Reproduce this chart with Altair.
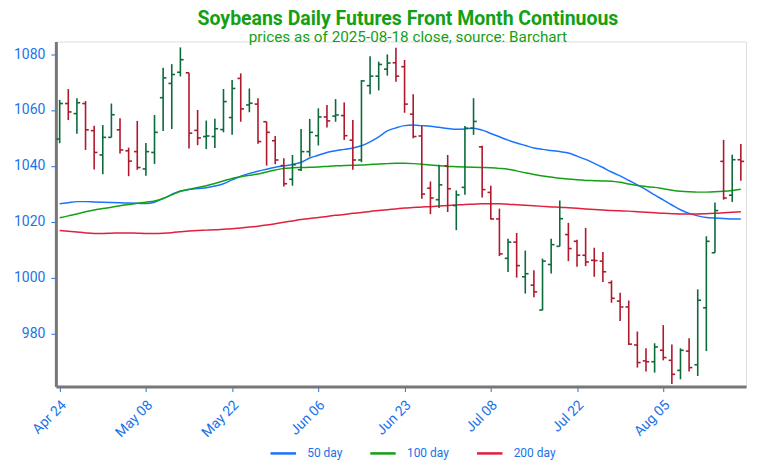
import altair as alt
import pandas as pd

# ---- data ----
tick_labels = ["Apr 24", "May 08", "May 22", "Jun 06", "Jun 23", "Jul 08", "Jul 22", "Aug 05"]
tick_index = [0, 10, 20, 30, 40, 50, 60, 70]

opens = [1049.6, 1062.3, 1058.7, 1062.3, 1052.6, 1043.9, 1050.2, 1052.9, 1045.4, 1045.1,
         1038.9, 1044.8, 1064.4, 1069.5, 1073.5, 1073.3, 1052.7, 1050.5, 1050.5, 1053.0,
         1057.3, 1071.3, 1061.8, 1062.1, 1055.8, 1049.0, 1040.1, 1035.2, 1038.6, 1045.1,
         1050.8, 1057.5, 1057.8, 1058.0, 1049.2, 1042.1, 1068.7, 1072.1, 1074.6, 1076.9,
         1075.5, 1058.5, 1050.7, 1032.0, 1027.9, 1040.0, 1025.8, 1032.3, 1053.5, 1046.8,
         1030.5, 1021.0, 1006.9, 1012.7, 1000.3, 997.3, 988.4, 1004.7, 1011.2, 1015.4,
         1013.0, 1008.0, 1006.2, 1005.9, 998.2, 991.6, 989.5, 975.9, 970.2, 969.9,
         974.0, 970.4, 966.8, 973.7, 968.8, 989.2, 1008.9, 1041.6, 1029.5, 1042.2]
highs = [1063.6, 1067.5, 1064.2, 1063.2, 1054.4, 1054.6, 1062.3, 1057.0, 1046.5, 1056.1,
         1048.2, 1058.2, 1075.1, 1076.4, 1082.4, 1073.3, 1060.0, 1056.2, 1056.9, 1067.5,
         1070.7, 1073.1, 1067.7, 1064.2, 1055.8, 1050.7, 1042.7, 1043.9, 1053.2, 1056.8,
         1060.6, 1061.8, 1063.9, 1062.7, 1056.4, 1070.7, 1079.2, 1077.3, 1079.9, 1082.3,
         1077.9, 1065.6, 1054.4, 1034.4, 1040.4, 1043.9, 1031.2, 1054.3, 1064.2, 1047.2,
         1032.9, 1024.7, 1013.9, 1016.0, 1009.7, 1002.6, 1006.8, 1013.9, 1027.6, 1019.6,
         1013.6, 1017.8, 1010.7, 1009.2, 999.0, 994.6, 991.8, 980.7, 974.7, 976.5,
         983.0, 976.1, 974.7, 978.3, 995.8, 1014.8, 1026.9, 1049.3, 1044.0, 1047.8]
lows = [1048.1, 1056.4, 1051.5, 1045.7, 1038.7, 1037.0, 1050.2, 1044.4, 1036.3, 1038.6,
        1036.5, 1040.7, 1052.5, 1053.2, 1072.0, 1046.2, 1047.4, 1046.0, 1046.4, 1052.0,
        1051.1, 1055.8, 1059.2, 1047.9, 1040.1, 1040.6, 1032.6, 1032.9, 1038.2, 1043.3,
        1047.3, 1053.7, 1055.8, 1049.3, 1038.6, 1041.3, 1065.6, 1067.0, 1072.3, 1070.1,
        1059.0, 1049.9, 1028.2, 1022.7, 1024.9, 1023.5, 1017.0, 1029.7, 1051.1, 1028.7,
        1020.8, 1007.7, 1002.0, 1000.0, 994.3, 993.0, 988.3, 1001.5, 1011.2, 1005.9,
        1003.9, 1004.1, 1000.3, 998.4, 991.0, 984.5, 975.9, 967.8, 966.4, 966.0,
        970.4, 961.9, 963.6, 966.4, 964.8, 973.7, 1008.9, 1027.9, 1027.1, 1034.7]
closes = [1062.3, 1059.3, 1062.6, 1052.9, 1044.8, 1050.2, 1058.3, 1045.7, 1041.7, 1039.4,
          1045.1, 1052.0, 1071.5, 1072.7, 1078.0, 1051.7, 1050.0, 1050.7, 1053.3, 1063.0,
          1067.7, 1060.4, 1062.4, 1048.7, 1052.0, 1042.1, 1033.6, 1040.4, 1045.1, 1052.0,
          1057.5, 1056.1, 1058.2, 1050.8, 1042.1, 1070.4, 1072.1, 1076.3, 1076.8, 1072.1,
          1062.1, 1050.5, 1029.9, 1028.5, 1033.2, 1031.8, 1029.6, 1053.5, 1055.9, 1031.5,
          1021.0, 1008.5, 1012.7, 1004.3, 1001.4, 994.9, 1005.9, 1011.8, 1021.1, 1010.4,
          1008.0, 1005.6, 1006.1, 1002.1, 992.6, 989.5, 976.2, 969.6, 969.9, 975.2,
          971.4, 965.4, 974.0, 967.8, 991.9, 1013.0, 1024.0, 1028.5, 1042.2, 1041.6]
updown = list("GRGRRGGRRRGGGGGRRGGGGRGRRRRGGGGRGRRGGGGRRRRRGRGGGRRRGRGRGGGRRRRRRRRRRGRRGRGGGRGR")

ma50 = [1026.4, 1026.8, 1027.2, 1027.2, 1027.1, 1027.0, 1026.9, 1026.8, 1026.7, 1026.6,
        1026.5, 1027.0, 1028.3, 1029.8, 1031.0, 1031.5, 1031.9, 1032.2, 1032.8, 1033.6,
        1035.0, 1036.3, 1037.3, 1038.1, 1038.8, 1039.5, 1040.0, 1040.5, 1041.3, 1042.8,
        1043.8, 1044.8, 1045.4, 1045.9, 1046.4, 1047.2, 1048.6, 1050.4, 1052.5, 1053.6,
        1054.4, 1054.6, 1054.4, 1054.2, 1053.8, 1053.4, 1053.1, 1053.2, 1053.5, 1052.8,
        1051.6, 1050.4, 1049.2, 1048.2, 1047.3, 1046.4, 1045.9, 1045.5, 1045.1, 1044.6,
        1043.5, 1042.3, 1040.9, 1039.4, 1037.8, 1036.4, 1034.8, 1033.2, 1031.5, 1029.6,
        1027.8, 1026.0, 1024.3, 1023.0, 1022.1, 1021.5, 1021.3, 1021.2, 1021.0, 1021.0]
ma100 = [1021.4, 1022.1, 1022.8, 1023.6, 1024.2, 1024.7, 1025.2, 1025.7, 1026.2, 1026.6,
         1027.0, 1027.4, 1028.3, 1029.6, 1030.9, 1031.6, 1032.3, 1032.9, 1033.7, 1034.6,
         1035.5, 1036.1, 1036.6, 1037.1, 1037.8, 1038.5, 1039.1, 1039.3, 1039.4, 1039.5,
         1039.6, 1039.8, 1040.0, 1040.1, 1040.2, 1040.3, 1040.5, 1040.7, 1040.8, 1040.9,
         1040.9, 1040.8, 1040.6, 1040.3, 1040.0, 1039.8, 1039.7, 1039.6, 1039.5, 1039.4,
         1039.3, 1039.1, 1038.8, 1038.2, 1037.5, 1036.9, 1036.4, 1036.0, 1035.6, 1035.3,
         1035.0, 1034.8, 1034.7, 1034.6, 1034.5, 1034.1, 1033.5, 1033.0, 1032.6, 1032.3,
         1031.8, 1031.3, 1030.9, 1030.7, 1030.6, 1030.6, 1030.7, 1030.9, 1031.2, 1031.6]
ma200 = [1016.9, 1016.6, 1016.3, 1016.0, 1015.8, 1015.8, 1015.9, 1016.0, 1016.0, 1015.9,
         1015.8, 1015.8, 1015.9, 1016.1, 1016.4, 1016.7, 1016.9, 1017.0, 1017.1, 1017.3,
         1017.5, 1017.8, 1018.1, 1018.4, 1018.8, 1019.3, 1019.8, 1020.3, 1020.8, 1021.2,
         1021.5, 1021.9, 1022.3, 1022.6, 1023.0, 1023.3, 1023.7, 1024.0, 1024.3, 1024.6,
         1024.9, 1025.1, 1025.3, 1025.4, 1025.6, 1025.8, 1026.0, 1026.2, 1026.3, 1026.4,
         1026.4, 1026.4, 1026.3, 1026.1, 1025.9, 1025.7, 1025.5, 1025.3, 1025.2, 1025.0,
         1024.8, 1024.6, 1024.4, 1024.2, 1024.0, 1023.9, 1023.8, 1023.6, 1023.4, 1023.2,
         1023.0, 1022.9, 1022.8, 1022.8, 1022.8, 1022.9, 1023.0, 1023.2, 1023.4, 1023.6]

ma_names = ["50 day", "100 day", "200 day"]
ma_colors = ["#1a73ff", "#14a014", "#e0203c"]
bar_colors = {"G": "#0b6b3a", "R": "#b0182c"}

# ---- tables ----
n = len(opens)
bars = pd.DataFrame({
    "idx": list(range(n)),
    "open": opens, "high": highs, "low": lows, "close": closes,
    "col": [bar_colors[u] for u in updown],
})
ma = pd.DataFrame({
    "idx": list(range(n)) * 3,
    "value": ma50 + ma100 + ma200,
    "series": [ma_names[0]] * n + [ma_names[1]] * n + [ma_names[2]] * n,
})

blue = "#1a73e8"
label_expr = "[" + ",".join("'" + t + "'" for t in tick_labels) + "][round(datum.value/10)]"

xscale = alt.Scale(domain=[-0.44, 79.6], nice=False, zero=False)
yscale = alt.Scale(domain=[961, 1084.5], nice=False, zero=False)

xaxis = alt.Axis(values=tick_index, labelExpr=label_expr, labelAngle=-45, labelAlign="right",
                 labelBaseline="middle", labelColor=blue, labelFontSize=14, labelFont="Roboto",
                 tickColor=blue, tickSize=5, domainColor="#777777", domainWidth=3,
                 grid=False, title=None, labelPadding=11, labelOffset=4)
yaxis = alt.Axis(values=[980, 1000, 1020, 1040, 1060, 1080], format="d", labelColor=blue,
                 labelFontSize=14, labelFont="Roboto", tickColor=blue, tickSize=5,
                 domainColor="#777777", domainWidth=3, grid=False, title=None, labelPadding=6)

base = alt.Chart(bars)

hl = base.mark_rule(strokeWidth=1.6).encode(
    x=alt.X("idx:Q", scale=xscale, axis=xaxis),
    y=alt.Y("low:Q", scale=yscale, axis=yaxis),
    y2="high:Q",
    color=alt.Color("col:N", scale=None),
)
op = base.transform_calculate(xo="datum.idx - 0.38").mark_rule(strokeWidth=1.6).encode(
    x=alt.X("xo:Q", scale=xscale),
    x2="idx:Q",
    y=alt.Y("open:Q", scale=yscale),
    color=alt.Color("col:N", scale=None),
)
cl = base.transform_calculate(xc="datum.idx + 0.38").mark_rule(strokeWidth=1.6).encode(
    x=alt.X("idx:Q", scale=xscale),
    x2="xc:Q",
    y=alt.Y("close:Q", scale=yscale),
    color=alt.Color("col:N", scale=None),
)

lines = alt.Chart(ma).mark_line(strokeWidth=1.5, interpolate="monotone").encode(
    x=alt.X("idx:Q", scale=xscale),
    y=alt.Y("value:Q", scale=yscale),
    color=alt.Color("series:N", scale=alt.Scale(domain=ma_names, range=ma_colors),
                    sort=ma_names,
                    legend=alt.Legend(orient="none", legendX=214, legendY=399,
                                      direction="horizontal", title=None,
                                      symbolType="stroke", symbolSize=650, symbolStrokeWidth=2.5,
                                      labelColor=blue, labelFontSize=12, labelFont="Roboto",
                                      columnPadding=22, labelOffset=10)),
    detail="series:N",
)

chart = alt.layer(lines, hl, op, cl).properties(
    width=692, height=346,
    padding={"left": 5, "top": 0, "right": 5, "bottom": 5},
    title=alt.TitleParams(
        text="Soybeans Daily Futures Front Month Continuous",
        subtitle="prices as of 2025-08-18 close, source: Barchart",
        color="#14a014", subtitleColor="#14a014",
        font="Roboto", subtitleFont="Roboto",
        fontSize=19.5, fontWeight="bold", subtitleFontSize=15.3,
        anchor="middle", offset=-5, subtitlePadding=1, dx=7,
    ),
).configure_view(stroke=None).configure(background="white")

chart.save("out.html", embed_options={"renderer": "svg", "actions": False})
